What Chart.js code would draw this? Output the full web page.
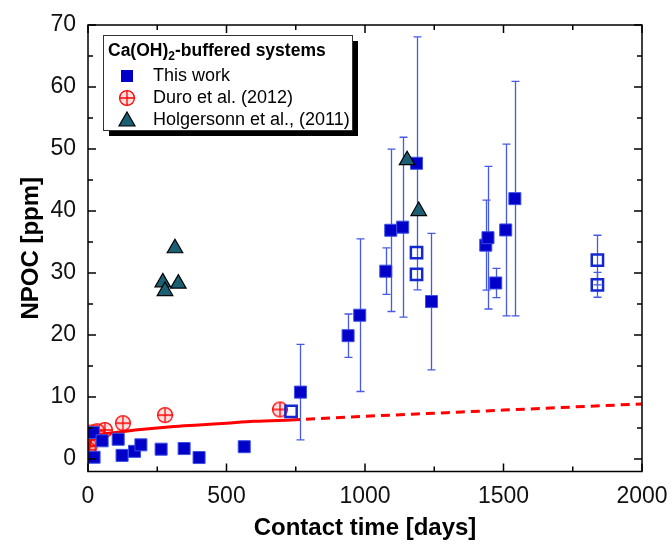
<!DOCTYPE html>
<html>
<head>
<meta charset="utf-8">
<script src="https://cdn.jsdelivr.net/npm/chart.js@4.4.1/dist/chart.umd.min.js"></script>
<style>
  body { margin: 0; background: #fff; }
  #caja { width: 672px; height: 545px; }
</style>
</head>
<body>
<div id="caja"><canvas id="grafica-npoc"></canvas></div>
<script>
// ---- datos ----
// This work (cuadros llenos), con barra de error (0 = sin barra)
var trabajoX   = [19, 22, 51, 109, 123, 168, 191, 264, 347, 401, 564, 767, 939, 981, 1075, 1093, 1136, 1186, 1240, 1436, 1444, 1472, 1508, 1541];
var trabajoY   = [4.3, 0.3, 2.95, 3.2, 0.6, 1.25, 2.3, 1.6, 1.7, 0.25, 2.0, 10.8, 19.9, 23.2, 30.3, 36.9, 37.4, 47.7, 25.4, 34.5, 35.7, 28.4, 36.95, 42.0];
var trabajoErr = [0, 0, 0, 0, 0, 0, 0, 0, 0, 0, 0, 7.7, 3.5, 12.3, 3.75, 13.1, 14.5, 20.4, 11, 7.25, 11.5, 2.35, 13.85, 18.9];
// This work (cuadros abiertos)
var abiertoX   = [733, 1186, 1186, 1839, 1839];
var abiertoY   = [7.7, 33.3, 29.8, 32.1, 28.1];
var abiertoErr = [0, 0, 0, 4.0, 2.0];
// Duro et al. (2012)
var duroX = [2, 5, 9, 15, 33, 61, 126, 278, 693];
var duroY = [1.5, 2.1, 3.2, 4.3, 4.5, 4.7, 5.8, 7.1, 8.0];
// Holgersonn et al., (2011)
var holgX = [270, 278, 314, 326, 1152, 1194];
var holgY = [28.5, 27.1, 34.0, 28.3, 48.2, 40.0];
// curva de ajuste (continua) y su extrapolacion (punteada)
var ajusteX = [0, 5, 15, 40, 100, 200, 300, 400, 500, 600, 733];
var ajusteY = [0.8, 2.4, 3.3, 3.9, 4.3, 4.8, 5.2, 5.5, 5.8, 6.1, 6.3];
var proyX = [733, 1000, 1250, 1500, 1750, 2000];
var proyY = [6.3, 6.9, 7.4, 7.9, 8.4, 8.9];
// ejes
var ejeX = { min: 0, max: 2000, paso: 500, menor: 250 };
var ejeY = { min: -2, max: 70, paso: 10, menor: 5 };
var etiquetasY = [0, 10, 20, 30, 40, 50, 60, 70];

var FUENTE = 'Arial, "Liberation Sans", sans-serif';
var AZUL = 'rgb(0, 0, 200)';
var AZUL_BARRA = 'rgb(70, 90, 230)';
var ROJO = 'rgb(255, 0, 0)';
var TEAL = 'rgb(27, 95, 115)';

function puntos(xs, ys) { return xs.map(function(x, i){ return {x: x, y: ys[i]}; }); }

// marcador circulo con cruz (Duro)
function circuloCruz() {
  var c = document.createElement('canvas');
  c.width = 18; c.height = 18;
  var g = c.getContext('2d');
  g.beginPath(); g.arc(9, 9, 7.4, 0, Math.PI * 2);
  g.fillStyle = 'rgba(255, 0, 0, 0.12)'; g.fill();
  g.strokeStyle = ROJO; g.lineWidth = 1.3; g.stroke();
  g.beginPath();
  g.moveTo(9, 1.6); g.lineTo(9, 16.4);
  g.moveTo(1.6, 9); g.lineTo(16.4, 9);
  g.stroke();
  return c;
}
var marcaDuro = circuloCruz();

// barras de error, detras de los marcadores
var barrasError = {
  id: 'barrasError',
  beforeDatasetsDraw: function(chart) {
    var ctx = chart.ctx, sx = chart.scales.x, sy = chart.scales.y;
    ctx.save();
    ctx.strokeStyle = AZUL_BARRA;
    ctx.lineWidth = 1.3;
    [[trabajoX, trabajoY, trabajoErr], [abiertoX, abiertoY, abiertoErr]].forEach(function(serie) {
      serie[0].forEach(function(x, i) {
        var e = serie[2][i];
        if (!e) return;
        var px = Math.round(sx.getPixelForValue(x)) + 0.5;
        var arriba = sy.getPixelForValue(serie[1][i] + e);
        var abajo = sy.getPixelForValue(serie[1][i] - e);
        ctx.beginPath();
        ctx.moveTo(px, arriba); ctx.lineTo(px, abajo);
        ctx.moveTo(px - 4, arriba); ctx.lineTo(px + 4, arriba);
        ctx.moveTo(px - 4, abajo); ctx.lineTo(px + 4, abajo);
        ctx.stroke();
      });
    });
    ctx.restore();
  }
};

// marco con ticks hacia adentro en los cuatro lados
var marco = {
  id: 'marco',
  afterDatasetsDraw: function(chart) {
    var ctx = chart.ctx, a = chart.chartArea, sx = chart.scales.x, sy = chart.scales.y;
    ctx.save();
    ctx.strokeStyle = '#000';
    ctx.lineWidth = 1.5;
    ctx.strokeRect(a.left, a.top, a.right - a.left, a.bottom - a.top);
    ctx.beginPath();
    for (var v = ejeX.min; v <= ejeX.max; v += ejeX.menor) {
      var px = sx.getPixelForValue(v);
      var largo = (v % ejeX.paso === 0) ? 8 : 5;
      ctx.moveTo(px, a.bottom); ctx.lineTo(px, a.bottom - largo);
      ctx.moveTo(px, a.top); ctx.lineTo(px, a.top + largo);
    }
    for (var w = 0; w <= ejeY.max; w += ejeY.menor) {
      var py = sy.getPixelForValue(w);
      var largoY = (w % ejeY.paso === 0) ? 8 : 5;
      ctx.moveTo(a.left, py); ctx.lineTo(a.left + largoY, py);
      ctx.moveTo(a.right, py); ctx.lineTo(a.right - largoY, py);
    }
    ctx.stroke();
    ctx.restore();
  }
};

// leyenda con sombra y subindice en el titulo
var leyenda = {
  id: 'leyenda',
  afterDraw: function(chart) {
    var ctx = chart.ctx;
    var x0 = 103, y0 = 35, w = 249, h = 95;
    ctx.save();
    ctx.fillStyle = '#000';
    ctx.fillRect(x0 + 6, y0 + 6, w, h);
    ctx.fillStyle = '#fff';
    ctx.fillRect(x0, y0, w, h);
    ctx.strokeStyle = '#333'; ctx.lineWidth = 1;
    ctx.strokeRect(x0 + 0.5, y0 + 0.5, w, h);
    // titulo
    ctx.fillStyle = '#000';
    ctx.textBaseline = 'alphabetic';
    ctx.font = 'bold 17.5px ' + FUENTE;
    var tx = 108, ty = 56;
    ctx.fillText('Ca(OH)', tx, ty);
    tx += ctx.measureText('Ca(OH)').width;
    ctx.font = 'bold 12px ' + FUENTE;
    ctx.fillText('2', tx, ty + 4);
    tx += ctx.measureText('2').width;
    ctx.font = 'bold 17.5px ' + FUENTE;
    ctx.fillText('-buffered systems', tx, ty);
    // entradas
    ctx.font = '18px ' + FUENTE;
    ctx.textBaseline = 'middle';
    var mx = 127;
    ctx.fillStyle = AZUL;
    ctx.fillRect(mx - 6, 76 - 6, 12, 12);
    ctx.drawImage(marcaDuro, mx - 9, 98 - 9);
    ctx.beginPath();
    ctx.moveTo(mx, 112); ctx.lineTo(mx + 8, 126); ctx.lineTo(mx - 8, 126); ctx.closePath();
    ctx.fillStyle = TEAL; ctx.fill();
    ctx.strokeStyle = '#000'; ctx.lineWidth = 1.2; ctx.stroke();
    ctx.fillStyle = '#000';
    ctx.fillText('This work', 153, 76);
    ctx.fillText('Duro et al. (2012)', 153, 98);
    ctx.fillText('Holgersonn et al., (2011)', 153, 120);
    ctx.restore();
  }
};

var ctx = document.getElementById('grafica-npoc').getContext('2d');
var graficaNPOC = new Chart(ctx, {
  type: 'scatter',
  data: {
    datasets: [{
      label: 'Holgersonn et al., (2011)',
      data: puntos(holgX, holgY),
      pointStyle: 'triangle',
      pointRadius: 9,
      backgroundColor: TEAL,
      borderColor: '#000',
      borderWidth: 1.2,
      order: 1
    }, {
      label: 'This work',
      data: puntos(trabajoX, trabajoY),
      pointStyle: 'rect',
      pointRadius: 8.5,
      backgroundColor: AZUL,
      borderColor: 'rgb(60, 80, 230)',
      borderWidth: 1,
      order: 2
    }, {
      label: 'This work (open)',
      data: puntos(abiertoX, abiertoY),
      pointStyle: 'rect',
      pointRadius: 8,
      backgroundColor: 'rgba(255, 255, 255, 0)',
      borderColor: 'rgb(20, 40, 210)',
      borderWidth: 2.5,
      order: 3
    }, {
      label: 'Duro et al. (2012)',
      data: puntos(duroX, duroY),
      pointStyle: marcaDuro,
      order: 4
    }, {
      label: 'ajuste',
      data: puntos(ajusteX, ajusteY),
      showLine: true,
      cubicInterpolationMode: 'monotone',
      pointRadius: 0,
      borderColor: ROJO,
      borderWidth: 3,
      order: 5
    }, {
      label: 'extrapolacion',
      data: puntos(proyX, proyY),
      showLine: true,
      cubicInterpolationMode: 'monotone',
      pointRadius: 0,
      borderColor: ROJO,
      borderWidth: 3,
      borderDash: [9, 6],
      order: 6
    }]
  },
  options: {
    responsive: true,
    maintainAspectRatio: false,
    animation: false,
    events: [],
    layout: { padding: { left: 0, right: 30, top: 25, bottom: 0 } },
    plugins: { legend: { display: false }, tooltip: { enabled: false } },
    scales: {
      x: {
        type: 'linear', min: ejeX.min, max: ejeX.max,
        grid: { display: false, drawTicks: false },
        border: { display: false },
        ticks: { stepSize: ejeX.paso, padding: 11, color: '#111', font: { family: FUENTE, size: 23 },
                 callback: function(v) { return String(v); } },
        title: { display: true, text: 'Contact time [days]', color: '#000', padding: { top: 0, bottom: 2 },
                 font: { family: FUENTE, size: 24, weight: 'bold' } },
        afterFit: function(scale) {
          scale.height = 73.5;
          scale.paddingLeft = 0; scale.paddingRight = 0; // sin relleno extra por la etiqueta 2000
        }
      },
      y: {
        type: 'linear', min: ejeY.min, max: ejeY.max,
        grid: { display: false, drawTicks: false },
        border: { display: false },
        afterBuildTicks: function(scale) {
          scale.ticks = etiquetasY.map(function(v){ return { value: v }; });
        },
        ticks: { padding: 12, color: '#111', font: { family: FUENTE, size: 23 },
                 callback: function(v) { return String(v); } },
        title: { display: true, text: 'NPOC [ppm]', color: '#000', padding: { top: 17, bottom: 0 },
                 font: { family: FUENTE, size: 24, weight: 'bold' } },
        afterFit: function(scale) {
          scale.width = 88;
          scale.paddingTop = 0; scale.paddingBottom = 0;
        }
      }
    }
  },
  plugins: [barrasError, marco, leyenda]
});
</script>
</body>
</html>
